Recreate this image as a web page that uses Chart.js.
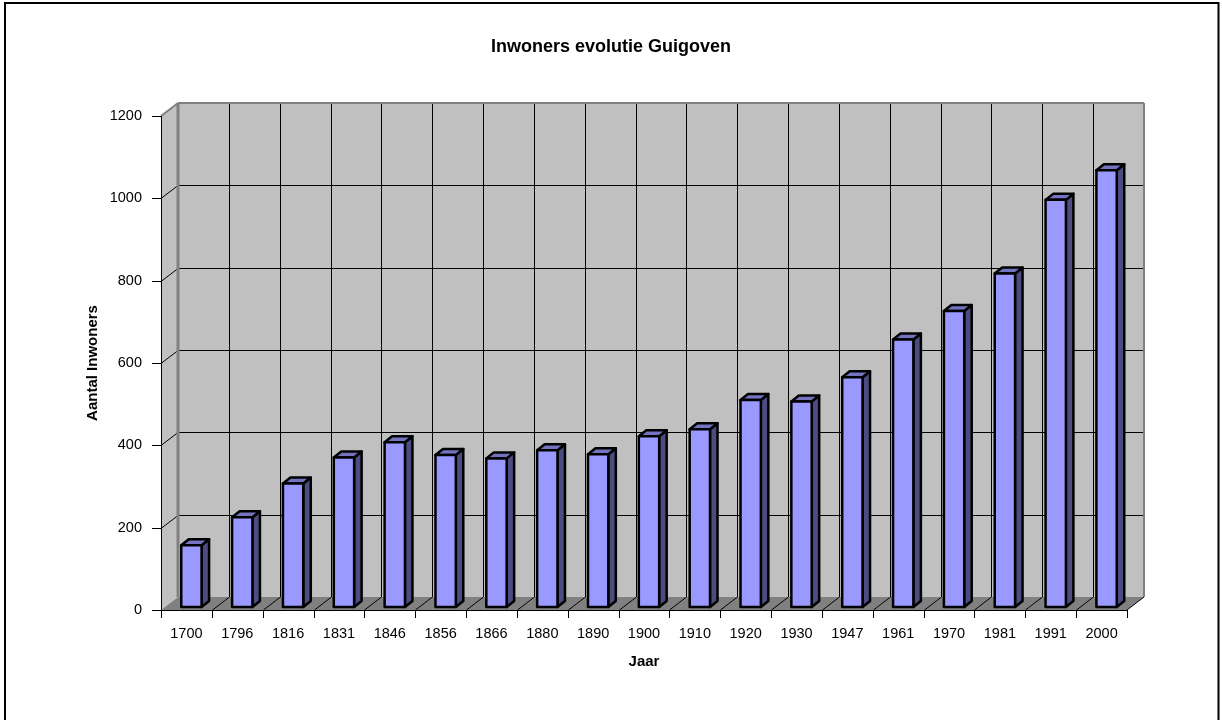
<!DOCTYPE html>
<html>
<head>
<meta charset="utf-8">
<title>Inwoners evolutie Guigoven</title>
<script src="https://cdn.jsdelivr.net/npm/chart.js@4.4.1/dist/chart.umd.min.js"></script>
<style>
  body { margin: 0; background: #fff; }
  canvas { display: block; }
</style>
</head>
<body>
<canvas id="myChart" width="1222" height="720"></canvas>
<script>
// data
const years = ['1700', '1796', '1816', '1831', '1846', '1856', '1866', '1880', '1890', '1900',
  '1910', '1920', '1930', '1947', '1961', '1970', '1981', '1991', '2000'];
const inwoners = [150, 218, 300, 363, 400, 369, 361, 381, 371, 415,
  432, 503, 499, 558, 650, 719, 810, 989, 1061];
const yTicks = [0, 200, 400, 600, 800, 1000, 1200];

const FONT = 'Liberation Sans, Arial, sans-serif';

// 3d offsets (wall depth, bar position, bar depth)
const DX = 17, DY = -13;
const BX = 5, BY = -3;
const BDX = 7.5, BDY = -6;

function poly(ctx, pts, fill, stroke, lw) {
  ctx.beginPath();
  ctx.moveTo(pts[0][0], pts[0][1]);
  for (let i = 1; i < pts.length; i++) ctx.lineTo(pts[i][0], pts[i][1]);
  ctx.closePath();
  if (fill) { ctx.fillStyle = fill; ctx.fill(); }
  if (stroke) { ctx.strokeStyle = stroke; ctx.lineWidth = lw || 1; ctx.stroke(); }
}

function line(ctx, x1, y1, x2, y2, color, lw) {
  ctx.beginPath();
  ctx.moveTo(x1, y1);
  ctx.lineTo(x2, y2);
  ctx.strokeStyle = color;
  ctx.lineWidth = lw || 1;
  ctx.stroke();
}

// walls, floor, gridlines, axes
const walls3d = {
  id: 'walls3d',
  beforeDatasetsDraw(chart) {
    const { ctx, chartArea: a, scales: { x, y } } = chart;
    const L = a.left, R = a.right, T = a.top, B = a.bottom;
    ctx.save();
    poly(ctx, [[L + DX, T + DY], [R + DX, T + DY], [R + DX, B + DY], [L + DX, B + DY]], '#c0c0c0');
    poly(ctx, [[L, T], [L + DX, T + DY], [L + DX, B + DY], [L, B]], '#c0c0c0');
    poly(ctx, [[L, B], [L + DX, B + DY], [R + DX, B + DY], [R, B]], '#808080');

    yTicks.forEach(v => {
      const py = Math.round(y.getPixelForValue(v)) + 0.5;
      if (v > 0 && v < 1200) {
        line(ctx, L + DX, py + DY, R + DX, py + DY, '#000');
        line(ctx, L, py, L + DX, py + DY, '#000');
      }
      line(ctx, L - 9, py, L, py, '#000');
    });

    for (let i = 0; i <= years.length; i++) {
      const px = Math.round(x.getPixelForValue(i - 0.5)) + 0.5;
      if (i > 0 && i < years.length) {
        line(ctx, px + DX, T + DY, px + DX, B + DY, '#000');
        line(ctx, px, B, px + DX, B + DY, '#000');
      }
      line(ctx, px, B, px, B + 8, '#000');
    }

    // wall frame
    line(ctx, L + DX, T + DY, R + DX, T + DY, '#808080', 2);
    line(ctx, R + DX, T + DY, R + DX, B + DY, '#808080', 2);
    line(ctx, L + DX, T + DY, L + DX, B + DY, '#808080', 3);
    line(ctx, L, T, L + DX, T + DY, '#808080', 2);
    line(ctx, R, B, R + DX, B + DY, '#000');

    // front axes
    line(ctx, L + 0.5, T, L + 0.5, B, '#000');
    line(ctx, L, B + 0.5, R, B + 0.5, '#000');
    ctx.restore();
  }
};

// 3d columns from the bar elements
const bars3d = {
  id: 'bars3d',
  afterDatasetsDraw(chart) {
    const ctx = chart.ctx;
    ctx.save();
    ctx.lineJoin = 'round';
    chart.getDatasetMeta(0).data.forEach(bar => {
      const p = bar.getProps(['x', 'y', 'base', 'width'], true);
      const l = p.x - p.width / 2 + BX, r = p.x + p.width / 2 + BX;
      const t = p.y + BY, b = p.base + BY;
      poly(ctx, [[r, b], [r + BDX, b + BDY], [r + BDX, t + BDY], [r, t]], '#4c4c80', '#000', 2.5);
      poly(ctx, [[l, t], [l + BDX, t + BDY], [r + BDX, t + BDY], [r, t]], '#7373bf', '#000', 2.5);
      poly(ctx, [[l, t], [r, t], [r, b], [l, b]], '#9999ff', '#000', 2.5);
    });
    ctx.restore();
  },
  afterDraw(chart) {
    const ctx = chart.ctx;
    ctx.save();
    ctx.strokeStyle = '#000';
    ctx.lineWidth = 2;
    ctx.strokeRect(5, 3, 1213.5, 800);
    ctx.restore();
  }
};

const ctx = document.getElementById('myChart');

new Chart(ctx, {
  type: 'bar',
  data: {
    labels: years,
    datasets: [{
      label: 'Aantal Inwoners',
      data: inwoners,
      backgroundColor: 'rgba(0,0,0,0)',
      borderWidth: 0,
      barPercentage: 0.4,
      categoryPercentage: 1
    }]
  },
  options: {
    responsive: false,
    devicePixelRatio: 1,
    animation: false,
    layout: { padding: 0 },
    plugins: {
      legend: { display: false },
      tooltip: { enabled: false },
      title: {
        display: true,
        text: 'Inwoners evolutie Guigoven',
        color: '#000',
        font: { family: FONT, size: 18, weight: 'bold' },
        padding: { top: 36, bottom: 58.4 }
      }
    },
    scales: {
      x: {
        offset: true,
        grid: { display: false },
        border: { display: false },
        ticks: {
          color: '#000',
          font: { family: FONT, size: 14.5 },
          padding: 7,
          maxRotation: 0,
          autoSkip: false
        },
        title: {
          display: true,
          text: 'Jaar',
          color: '#000',
          font: { family: FONT, size: 15, weight: 'bold' },
          padding: { top: 0, bottom: 49 }
        },
        afterFit(scale) { scale.height = 110; }
      },
      y: {
        min: 0,
        max: 1200,
        grid: { display: false },
        border: { display: false },
        ticks: {
          stepSize: 200,
          color: '#000',
          font: { family: FONT, size: 14.5 },
          padding: 11,
          callback: v => String(v)
        },
        title: {
          display: true,
          text: 'Aantal Inwoners',
          color: '#000',
          font: { family: FONT, size: 15, weight: 'bold' },
          padding: { top: 84, bottom: 0 }
        },
        afterFit(scale) { scale.width = 161; }
      },
      // empty right-hand space so the plot ends where the reference's does
      spacer: {
        type: 'linear',
        position: 'right',
        display: true,
        grid: { display: false },
        border: { display: false },
        ticks: { display: false },
        afterFit(scale) { scale.width = 95; }
      }
    }
  },
  plugins: [walls3d, bars3d]
});
</script>
</body>
</html>
